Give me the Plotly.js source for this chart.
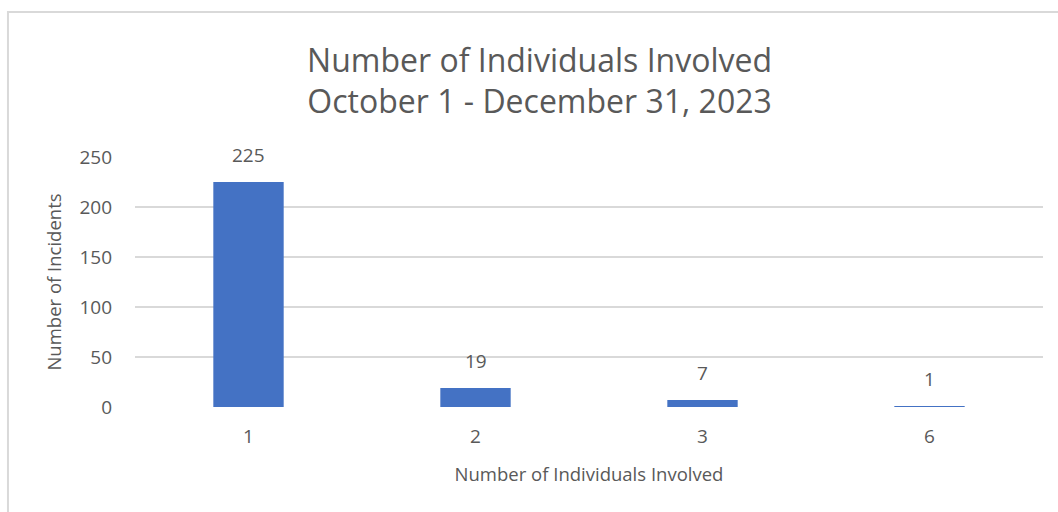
<!DOCTYPE html>
<html>
<head>
<meta charset="utf-8">
<script src="https://cdn.plot.ly/plotly-3.0.1.min.js"></script>
<style>html,body{margin:0;padding:0;background:#fff;}#chart{width:1058px;height:512px;}</style>
</head>
<body>
<div id="chart"></div>
<script>
const categories = ["1", "2", "3", "6"];
const incidents = [225, 19, 7, 1];
const yTicks = [0, 50, 100, 150, 200, 250];

const FONT = "Open Sans, Noto Sans, sans-serif";
const GREY = "#595959";

const annotations = categories.map((c, i) => ({
  x: i, y: incidents[i], xref: "x", yref: "y",
  text: String(incidents[i]), showarrow: false,
  yanchor: "bottom", yshift: 12,
  font: {family: FONT, size: 19, color: GREY}
}));

const data = [{
  type: "bar",
  x: categories,
  y: incidents,
  marker: {color: "#4472C4"},
  hoverinfo: "none"
}];

const layout = {
  width: 1058, height: 512,
  margin: {l: 135, r: 15, t: 157, b: 105},
  paper_bgcolor: "#fff", plot_bgcolor: "#fff",
  bargap: 0.69,
  showlegend: false,
  title: {
    text: "Number of Individuals Involved<br>October 1 - December 31, 2023",
    font: {family: FONT, size: 32, color: GREY},
    x: 0.51, xanchor: "center", y: 0.86, yanchor: "top"
  },
  xaxis: {
    type: "category",
    range: [-0.5, 3.5],
    showgrid: false, zeroline: false, showline: false,
    ticks: "", ticklabelstandoff: 16,
    tickfont: {family: FONT, size: 19, color: GREY},
    title: {text: "Number of Individuals Involved", font: {family: FONT, size: 18.5, color: GREY}, standoff: 20}
  },
  yaxis: {
    range: [0, 250],
    tickvals: yTicks,
    showgrid: true, gridcolor: "#D9D9D9", gridwidth: 1.3,
    zeroline: false, showline: false,
    ticks: "", ticklabelstandoff: 22,
    tickfont: {family: FONT, size: 19, color: GREY},
    title: {text: "Number of Incidents", font: {family: FONT, size: 18.5, color: GREY}, standoff: 12}
  },
  annotations: annotations,
  shapes: [{
    type: "rect", xref: "paper", yref: "paper",
    x0: -0.1399, x1: 1.2, y0: -0.6, y1: 1.58,
    line: {color: "#D9D9D9", width: 2}, fillcolor: "rgba(0,0,0,0)", layer: "below"
  }]
};

Plotly.newPlot("chart", data, layout, {displayModeBar: false, staticPlot: true});
</script>
</body>
</html>
